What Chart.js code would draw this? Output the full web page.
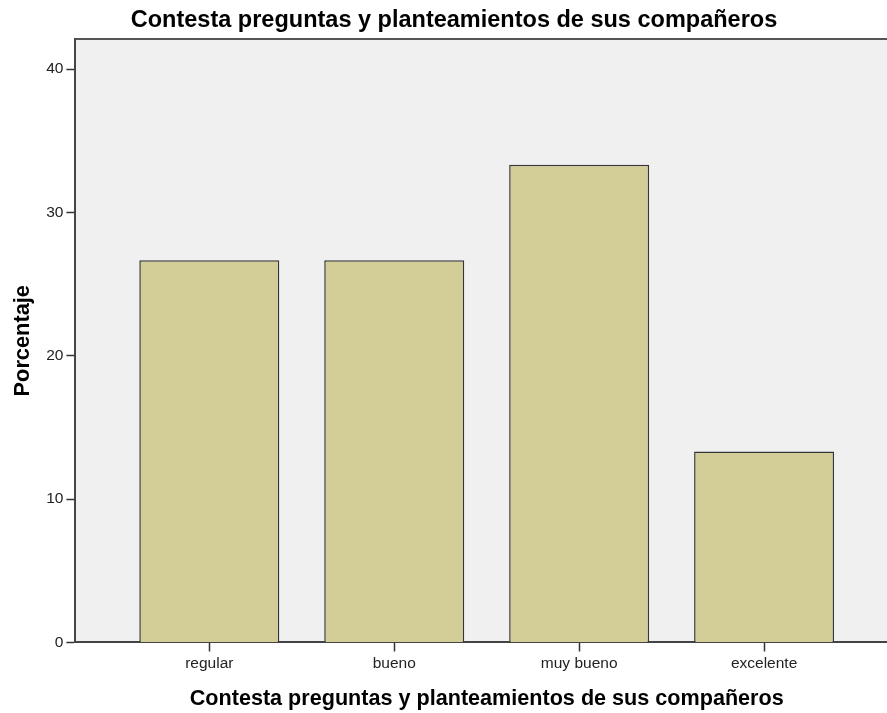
<!DOCTYPE html>
<html>
<head>
<meta charset="utf-8">
<script src="https://cdn.jsdelivr.net/npm/chart.js@4/dist/chart.umd.min.js"></script>
<style>
  html, body { margin: 0; padding: 0; background: #fff; overflow: hidden; }
  canvas { display: block; }
</style>
</head>
<body>
<canvas id="chart" width="900" height="713"></canvas>
<script>
// datos
const categorias = ['regular', 'bueno', 'muy bueno', 'excelente'];
const porcentajes = [26.67, 26.67, 33.33, 13.33];
const ticksY = [0, 10, 20, 30, 40];
const titulo = 'Contesta preguntas y planteamientos de sus compañeros';

const relleno = '#d3ce97';
const linea   = '#363636';
const fondo   = '#f0f0f0';

// fondo gris y marco del área de trazado
const marco = {
    id: 'marco',
    beforeDraw(chart) {
        const a = chart.chartArea, ctx = chart.ctx;
        ctx.save();
        ctx.fillStyle = fondo;
        ctx.fillRect(a.left, a.top, a.right - a.left, a.bottom - a.top);
        ctx.restore();
    },
    afterDraw(chart) {
        const a = chart.chartArea, ctx = chart.ctx;
        ctx.save();
        ctx.strokeStyle = '#555';
        ctx.lineWidth = 2;
        ctx.beginPath();
        ctx.moveTo(a.left, a.top);
        ctx.lineTo(a.right, a.top);
        ctx.lineTo(a.right, a.bottom);
        ctx.stroke();
        ctx.restore();
    }
};

new Chart(document.getElementById('chart'), {
    type: 'bar',
    data: {
        datasets: [{
            data: porcentajes.map((v, i) => ({ x: i, y: v })),
            backgroundColor: relleno,
            borderColor: linea,
            borderWidth: 1.5,
            barPercentage: 0.757,
            categoryPercentage: 1
        }]
    },
    options: {
        responsive: false,
        animation: false,
        devicePixelRatio: 1,
        layout: { padding: { left: 10, right: 2, top: 0, bottom: 0 } },
        plugins: {
            legend: { display: false },
            tooltip: { enabled: false },
            title: {
                display: true,
                text: titulo,
                color: '#000',
                font: { family: 'Liberation Sans', size: 23.5, weight: 'bold' },
                padding: { top: 6, bottom: 4.8 }
            }
        },
        scales: {
            x: {
                type: 'linear',
                offset: false,
                min: -0.724,
                max: 3.724,
                afterBuildTicks: s => { s.ticks = categorias.map((c, i) => ({ value: i })); },
                ticks: {
                    autoSkip: false,
                    maxRotation: 0,
                    padding: 3,
                    color: '#222',
                    font: { family: 'Liberation Sans', size: 15.5 },
                    callback: v => categorias[v]
                },
                grid: { offset: false, drawOnChartArea: false, tickLength: 9, tickColor: '#333', tickWidth: 1.5 },
                border: { color: '#444', width: 2 },
                title: {
                    display: true,
                    text: titulo,
                    color: '#000',
                    font: { family: 'Liberation Sans', size: 21.6, weight: 'bold' },
                    padding: { top: 10, bottom: 1 }
                }
            },
            y: {
                min: 0,
                max: 42.1,
                afterBuildTicks: s => { s.ticks = ticksY.map(v => ({ value: v })); },
                ticks: {
                    padding: 3,
                    color: '#222',
                    font: { family: 'Liberation Sans', size: 15.5 }
                },
                grid: { drawOnChartArea: false, tickLength: 9, tickColor: '#333', tickWidth: 1.5 },
                border: { color: '#444', width: 2 },
                title: {
                    display: true,
                    text: 'Porcentaje',
                    color: '#000',
                    font: { family: 'Liberation Sans', size: 21.8, weight: 'bold' },
                    padding: { top: 0, bottom: 7 }
                }
            }
        }
    },
    plugins: [marco]
});
</script>
</body>
</html>
